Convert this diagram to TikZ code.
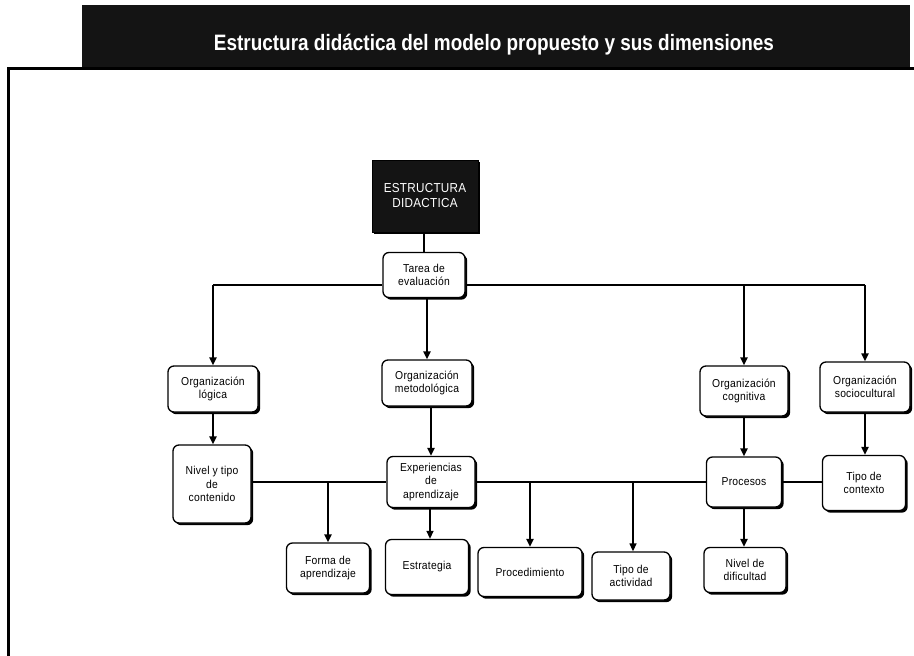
\documentclass[tikz,border=0pt]{standalone}
\usepackage{fontspec}
\setmainfont{Liberation Sans}
\newfontfamily\narrowfont[FakeStretch=0.85]{Liberation Sans}
\newfontfamily\boxfont[FakeStretch=0.9, LetterSpace=2]{Liberation Sans}
\usetikzlibrary{arrows.meta,shadows}
\begin{document}
\begin{tikzpicture}[x=1pt,y=-1pt,
  box/.style={draw=black, line width=1.3pt, fill=white, rounded corners=6pt,
    drop shadow={shadow xshift=2.2pt, shadow yshift=-2.2pt, fill=black, opacity=1},
    align=center, inner sep=2pt, font=\boxfont\fontsize{11.5}{13.5}\selectfont},
  thinline/.style={line width=1.1pt},
  thickline/.style={line width=2.4pt},
  arr/.style={line width=2.4pt, -{Triangle[width=7pt,length=8pt]}},
  arrthin/.style={line width=1.3pt, -{Triangle[width=7pt,length=8pt]}}]
\useasboundingbox (0,0) rectangle (914,656);
% title bar and frame
\fill[black!92] (82,5) rectangle (910,67);
\node[text=white, font=\narrowfont\bfseries] (title) at (494,45)
  {\resizebox{560pt}{!}{Estructura didáctica del modelo propuesto y sus dimensiones}};
\draw[line width=2.5pt] (914,68.5) -- (8.5,68.5) -- (8.5,656);
% nodes
\node[fill=black!92, draw=black, minimum width=106pt, minimum height=72pt, text=white,
  align=center, font=\boxfont\fontsize{13}{15}\selectfont,
  drop shadow={shadow xshift=2pt, shadow yshift=-2pt, fill=black, opacity=1}] (est) at (425,196)
  {ESTRUCTURA\\DIDACTICA};
\node[box, minimum width=82pt, minimum height=45pt] (tarea) at (424,275) {Tarea de\\evaluación};
\node[box, minimum width=90pt, minimum height=46pt] (orgL) at (213,389) {Organización\\lógica};
\node[box, minimum width=90pt, minimum height=46pt] (orgM) at (427,383) {Organización\\metodológica};
\node[box, minimum width=88pt, minimum height=50pt] (orgC) at (744,391) {Organización\\cognitiva};
\node[box, minimum width=90pt, minimum height=50pt] (orgS) at (865,387) {Organización\\sociocultural};
\node[box, minimum width=78pt, minimum height=78pt] (nivel) at (212,484) {Nivel y tipo\\de\\contenido};
\node[box, minimum width=88pt, minimum height=51pt] (exp) at (431,482) {Experiencias\\de\\aprendizaje};
\node[box, minimum width=75pt, minimum height=50pt] (proc) at (744,482) {Procesos};
\node[box, minimum width=83pt, minimum height=55pt] (ctx) at (864,483) {Tipo de\\contexto};
\node[box, minimum width=83pt, minimum height=50pt] (forma) at (328,568) {Forma de\\aprendizaje};
\node[box, minimum width=83pt, minimum height=55pt] (estr) at (427,567) {Estrategia};
\node[box, minimum width=104pt, minimum height=49pt] (procd) at (530,572) {Procedimiento};
\node[box, minimum width=78pt, minimum height=48pt] (tact) at (631,576) {Tipo de\\actividad};
\node[box, minimum width=82pt, minimum height=45pt] (ndif) at (745,570) {Nivel de\\dificultad};
% junction coordinates
\coordinate (hL) at (213,285);
\coordinate (hC) at (744,285);
\coordinate (hR) at (865,285);
\coordinate (dF) at (328,482);
\coordinate (dP) at (530,482);
\coordinate (dT) at (633,482);
\coordinate (dE) at (430,482);
% connectors
\draw[thickline] (est.south -| tarea.north) -- (tarea.north);
\draw[thinline] (tarea.west |- hL) -- (hL);
\draw[thinline] (tarea.east |- hR) -- (hR);
\draw[arr] (hL) -- (orgL.north -| hL);
\draw[arr] (hC) -- (orgC.north -| hC);
\draw[arr] (hR) -- (orgS.north -| hR);
\draw[arr] (tarea.south -| orgM.north) -- (orgM.north);
\draw[arr] (orgL.south) -- (nivel.north -| orgL.south);
\draw[arr] (orgM.south -| exp.north) -- (exp.north);
\draw[arr] (orgC.south) -- (proc.north -| orgC.south);
\draw[arr] (orgS.south) -- (ctx.north -| orgS.south);
\draw[thickline] (nivel.east |- exp) -- (exp.west);
\draw[thickline] (exp.east) -- (proc.west);
\draw[thickline] (proc.east) -- (ctx.west |- proc);
\draw[arr] (dF) -- (forma.north -| dF);
\draw[arr] (dP) -- (procd.north -| dP);
\draw[arrthin] (dT) -- (tact.north -| dT);
\draw[arrthin] (exp.south -| dE) -- (estr.north -| dE);
\draw[arr] (proc.south) -- (ndif.north -| proc.south);
\end{tikzpicture}
\end{document}
